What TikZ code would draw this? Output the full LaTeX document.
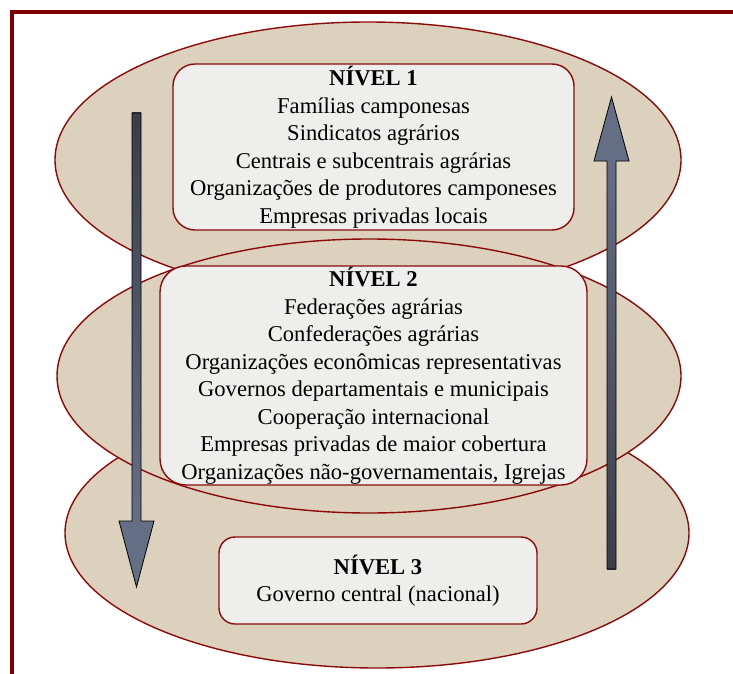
\documentclass[tikz,border=0pt]{standalone}
\usepackage{fontspec}
\setmainfont{Liberation Serif}
\usepackage{xcolor}
\usetikzlibrary{positioning}

\definecolor{linho}{HTML}{DCD1BC}
\definecolor{papel}{HTML}{EEEEEC}
\definecolor{vinho}{HTML}{8A0A0A}
\definecolor{moldura}{HTML}{7D0000}
\definecolor{ardosia}{HTML}{646E85}
\definecolor{ardosiaesc}{HTML}{3A3E49}

\begin{document}
\begin{tikzpicture}[x=1pt, y=-1pt,
    camada/.style={draw=vinho, line width=1.4pt, fill=linho},
    caixa/.style={draw=vinho, line width=1.4pt, fill=papel, align=center,
        inner sep=0pt, font=\fontsize{22.6}{27.5}\selectfont}]
    \useasboundingbox (0,0) rectangle (733,674);
    % moldura
    \draw[moldura, line width=4pt] (733,12) -- (12,12) -- (12,674);

    % camadas (elipses)
    \draw[camada] (368,160) ellipse [x radius=313, y radius=138];
    \draw[camada] (377,533) ellipse [x radius=312, y radius=135];
    \draw[camada] (369,376) ellipse [x radius=312, y radius=137];

    % niveis
    \node[caixa, rounded corners=22pt, minimum width=401pt, minimum height=166pt]
        (nivel1) at (373.5,147) {\textbf{NÍVEL 1}\\ Famílias camponesas\\ Sindicatos agrários\\
        Centrais e subcentrais agrárias\\ Organizações de produtores camponeses\\
        Empresas privadas locais};
    \node[caixa, rounded corners=26pt, minimum width=427pt, minimum height=219pt]
        (nivel2) at (373.5,375.5) {\textbf{NÍVEL 2}\\ Federações agrárias\\ Confederações agrárias\\
        Organizações econômicas representativas\\ Governos departamentais e municipais\\
        Cooperação internacional\\ Empresas privadas de maior cobertura\\
        Organizações não-governamentais, Igrejas};
    \node[caixa, rounded corners=16pt, minimum width=318pt, minimum height=87pt]
        (nivel3) at (378,580.5) {\textbf{NÍVEL 3}\\ Governo central (nacional)};

    % seta descendo
    \shade[top color=ardosiaesc, bottom color=ardosia] (132,113) rectangle (141,522);
    \fill[ardosia] (119,521) -- (154,521) -- (136.5,587) -- cycle;
    \draw[line width=0.8pt, line join=miter]
        (132,113) -- (141,113) -- (141,521) -- (154,521) -- (136.5,587)
        -- (119,521) -- (132,521) -- cycle;
    % seta subindo
    \shade[top color=ardosia, bottom color=ardosiaesc] (607,160) rectangle (616,569);
    \fill[ardosia] (594,161) -- (629,161) -- (611.5,97) -- cycle;
    \draw[line width=0.8pt, line join=miter]
        (607,569) -- (616,569) -- (616,161) -- (629,161) -- (611.5,97)
        -- (594,161) -- (607,161) -- cycle;
\end{tikzpicture}
\end{document}
